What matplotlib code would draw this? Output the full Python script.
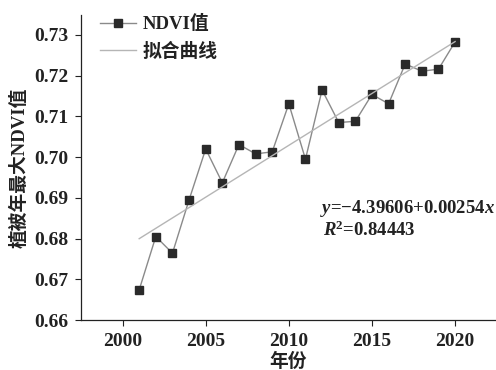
import numpy as np
import matplotlib
matplotlib.use('Agg')
import matplotlib.pyplot as plt

years = list(range(2001, 2021))
ndvi = [0.6674, 0.6805, 0.6764, 0.6895, 0.7020, 0.6937, 0.7031, 0.7008, 0.7013, 0.7131,
        0.6995, 0.7165, 0.7085, 0.7088, 0.7154, 0.7131, 0.7229, 0.7211, 0.7216, 0.7283]
y_ticks = [0.66, 0.67, 0.68, 0.69, 0.70, 0.71, 0.72, 0.73]
x_ticks = [2000, 2005, 2010, 2015, 2020]
equation = r'$y$=−4.39606+0.00254$x$'
r2_text = r'$R$$^2$=0.84443'

plt.rcParams['font.family'] = ['Liberation Serif', 'Noto Sans CJK SC']
plt.rcParams['font.weight'] = 'bold'
plt.rcParams['mathtext.fontset'] = 'custom'
plt.rcParams['mathtext.rm'] = 'Liberation Serif:bold'
plt.rcParams['mathtext.it'] = 'Liberation Serif:italic:bold'

def main():
    fig = plt.figure(figsize=(4.96, 3.70), dpi=100)
    ax = fig.add_axes([0.1633, 0.1351, 0.8347, 0.8243])

    # linear trend of the yearly maxima
    k, b = np.polyfit(years, ndvi, 1)
    fit = [k * t + b for t in years]

    ax.plot(years, ndvi, color='#8a8a8a', lw=1.0, marker='s', markersize=5.5,
            markerfacecolor='#2a2a2a', markeredgecolor='#2a2a2a', label='NDVI值')
    ax.plot(years, fit, color='#b5b5b5', lw=1.0, label='拟合曲线')

    ax.set_xlim(1997.5, 2022.4)
    ax.set_ylim(0.66, 0.7349)
    ax.set_xticks(x_ticks)
    ax.set_yticks(y_ticks)
    ax.set_yticklabels(['%.2f' % v for v in y_ticks])
    ax.tick_params(direction='out', length=4, width=0.8, labelsize=14, colors='#222222')
    ax.tick_params(axis='y', pad=5)
    ax.tick_params(axis='x', pad=5)
    for s in ['top', 'right']:
        ax.spines[s].set_visible(False)
    for s in ['left', 'bottom']:
        ax.spines[s].set_linewidth(0.9)
        ax.spines[s].set_color('#222222')

    ax.set_xlabel('年份', fontsize=13.5, fontweight='bold', labelpad=2,
                  family=['Noto Sans CJK SC'], color='#222222')
    ax.set_ylabel('植被年最大NDVI值', fontsize=13.5, fontweight='bold', labelpad=4,
                  family=['Liberation Serif', 'Noto Sans CJK SC'], color='#222222')

    ax.text(1.0, 0.367, equation, transform=ax.transAxes, ha='right', va='center',
            fontsize=13.5, color='#222222')
    ax.text(0.585, 0.295, r2_text, transform=ax.transAxes, ha='left', va='center',
            fontsize=13.5, color='#222222')

    leg = ax.legend(loc='upper left', bbox_to_anchor=(0.005, 1.055), frameon=False,
                    fontsize=13.5, handlelength=1.9, handletextpad=0.4, labelspacing=0.5)
    for t in leg.get_texts():
        t.set_color('#222222')

    fig.savefig('out.png', dpi=100)

if __name__ == "__main__":
    main()
